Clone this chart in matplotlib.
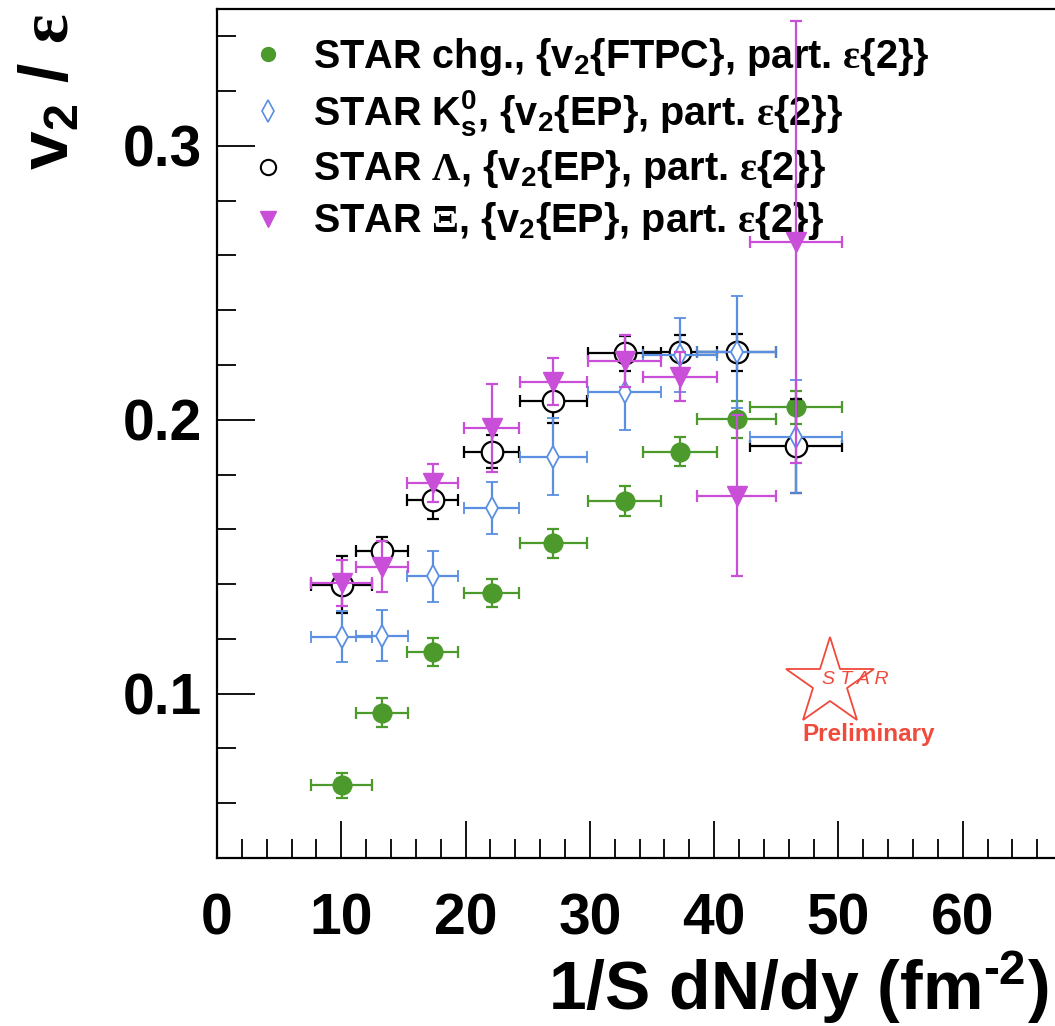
import matplotlib
matplotlib.use("Agg")
import matplotlib.pyplot as plt
from matplotlib.lines import Line2D
from matplotlib.ticker import MultipleLocator

plt.rcParams['font.family'] = ['Liberation Sans', 'DejaVu Sans']
plt.rcParams['font.weight'] = 'bold'
plt.rcParams['mathtext.fontset'] = 'custom'
plt.rcParams['mathtext.rm'] = 'Liberation Sans:bold'
plt.rcParams['mathtext.it'] = 'Liberation Sans:bold'
plt.rcParams['mathtext.bf'] = 'Liberation Sans:bold'
plt.rcParams['mathtext.sf'] = 'Liberation Serif'

# ---- data ----
x = [10.03, 13.25, 17.35, 22.1, 27.05, 32.82, 37.25, 41.8, 46.58]
xerr = [2.45, 2.1, 2.07, 2.2, 2.7, 2.94, 3.0, 3.2, 3.7]

chg_y = [0.0665, 0.0930, 0.1152, 0.1368, 0.1550, 0.1702, 0.1884, 0.2002, 0.2046]
chg_err = [0.0047, 0.0053, 0.0050, 0.0051, 0.0053, 0.0055, 0.0053, 0.0068, 0.0060]

k0s_y = [0.1208, 0.1212, 0.1428, 0.1678, 0.1866, 0.2103, 0.2237, 0.2248, 0.1939]
k0s_err = [0.0093, 0.0093, 0.0092, 0.0096, 0.0140, 0.0140, 0.0136, 0.0204, 0.0207]

lam_y = [0.1398, 0.1522, 0.1708, 0.1884, 0.2067, 0.2243, 0.2247, 0.2247, 0.1905]
lam_err = [0.0105, 0.0050, 0.0070, 0.0060, 0.0080, 0.0064, 0.0064, 0.0067, 0.0172]

xi_y = [0.1404, 0.1464, 0.1769, 0.1970, 0.2139, 0.2213, 0.2158, 0.1723, 0.2651]
xi_err = [0.0085, 0.0093, 0.0070, 0.0160, 0.0085, 0.0095, 0.0091, 0.0295, 0.0807]

labels = [
    r"STAR chg., {v$_{2}${FTPC}, part. $\mathsf{ε}${2}}",
    r"STAR K$^{0}_{s}$, {v$_{2}${EP}, part. $\mathsf{ε}${2}}",
    r"STAR $\mathsf{Λ}$, {v$_{2}${EP}, part. $\mathsf{ε}${2}}",
    r"STAR $\mathsf{Ξ}$, {v$_{2}${EP}, part. $\mathsf{ε}${2}}",
]
xticks = [0, 10, 20, 30, 40, 50, 60]
yticks = [0.1, 0.2, 0.3]

GREEN = '#4b9a2b'
BLUE = '#5a8fe2'
BLACK = '#000000'
MAG = '#c94fd9'
RED = '#f04a3c'

fig = plt.figure(figsize=(10.55, 10.26), dpi=100)
ax = fig.add_axes([217/1055, 168/1026, 1 - 217/1055, (858-9)/1026])

ekw = dict(elinewidth=1.6, capsize=4.5, capthick=1.6, linestyle='none')
ax.errorbar(x, chg_y, xerr=xerr, yerr=chg_err, fmt='o', color=GREEN, ms=13.5,
            mec=GREEN, mfc=GREEN, zorder=3, **ekw)
ax.errorbar(x, lam_y, xerr=xerr, yerr=lam_err, fmt='o', color=BLACK, ms=15.5,
            mec=BLACK, mfc='white', mew=1.6, zorder=4, **ekw)
ax.errorbar(x, k0s_y, xerr=xerr, yerr=k0s_err, fmt='d', color=BLUE, ms=11,
            mec=BLUE, mfc='white', mew=1.3, zorder=5, **ekw)
ax.errorbar(x, xi_y, xerr=xerr, yerr=xi_err, fmt='v', color=MAG, ms=14,
            mec=MAG, mfc=MAG, zorder=6, **ekw)

ax.set_xlim(0, 67.42)
ax.set_ylim(0.04, 0.35)
ax.xaxis.set_minor_locator(MultipleLocator(2))
ax.yaxis.set_minor_locator(MultipleLocator(0.02))
ax.set_xticks(xticks)
ax.set_xticklabels([str(v) for v in xticks])
ax.set_yticks(yticks)
ax.set_yticklabels([f"{v:.1f}" for v in yticks])
ax.tick_params(which='both', direction='in', top=False, right=False, width=1.3)
ax.tick_params(which='major', length=27, labelsize=41)
ax.tick_params(which='minor', length=14)
ax.tick_params(axis='x', which='major', pad=25)
ax.tick_params(axis='y', which='major', pad=11)
for lab in ax.get_xticklabels() + ax.get_yticklabels():
    lab.set_fontweight('bold')
for s in ['left', 'bottom', 'top']:
    ax.spines[s].set_linewidth(1.6)
ax.spines['right'].set_visible(False)

fig.text(1049/1055, 1 - 1010/1026, "1/S dN/dy (fm$^{‐2}$)", ha='right', va='baseline',
         fontsize=49, fontweight='bold')
fig.text(50/1055, 1 - 14/1026, r"v$_{2}$ / $\mathsf{ε}$", ha='center', va='top',
         rotation=90, fontsize=50, fontweight='bold')

handles = [
    Line2D([], [], marker='o', color=GREEN, ls='none', ms=10),
    Line2D([], [], marker='d', color=BLUE, mfc='white', mew=1.2, ls='none', ms=11),
    Line2D([], [], marker='o', color=BLACK, mfc='white', mew=1.5, ls='none', ms=11),
    Line2D([], [], marker='v', color=MAG, ls='none', ms=11),
]
leg = ax.legend(handles, labels, loc='upper left', bbox_to_anchor=(0.037, 0.968),
                frameon=False, fontsize=28.5, handlelength=1.0, handletextpad=0.64,
                labelspacing=0.255, borderpad=0, borderaxespad=0)
for t in leg.get_texts():
    t.set_fontweight('bold')

# STAR Preliminary logo
ax.plot([0.7315], [0.2065], marker='*', transform=ax.transAxes, ms=66, mfc='none',
        mec=RED, mew=1.3, clip_on=False, zorder=2)
ax.text(0.762, 0.2097, "S T A R", transform=ax.transAxes, ha='center', va='center',
        fontsize=14, style='italic', fontweight='normal', color=RED)
ax.text(0.777, 0.1449, "Preliminary", transform=ax.transAxes, ha='center', va='center',
        fontsize=17.5, fontweight='bold', color=RED)

fig.savefig('out.png', dpi=100)
